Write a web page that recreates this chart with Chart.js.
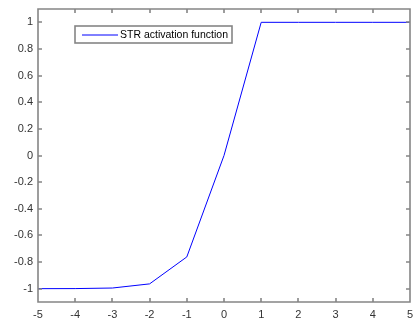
<!DOCTYPE html>
<html>
<head>
<meta charset="utf-8">
<script src="https://cdn.jsdelivr.net/npm/chart.js@4"></script>
<style>
  body { margin: 0; background: #fff; }
  canvas { display: block; }
</style>
</head>
<body>
<canvas id="graficaSTR" width="414" height="322"></canvas>
<script>
// datos
const xValores = [-5, -4, -3, -2, -1, 0, 1, 2, 3, 4, 5];
const yValores = [-0.9999, -0.9993, -0.9951, -0.964, -0.7616, 0, 1, 1, 1, 1, 1];
const xTicks = [-5, -4, -3, -2, -1, 0, 1, 2, 3, 4, 5];
const yTicks = [-1, -0.8, -0.6, -0.4, -0.2, 0, 0.2, 0.4, 0.6, 0.8, 1];
const etiquetaSerie = 'STR activation function';

const colorLinea = '#0000ff';
const colorEje = '#858585';
const fuente = { family: 'Liberation Sans, Arial, sans-serif', size: 11 };

// caja estilo matlab con ticks hacia adentro + leyenda
const cajaPlugin = {
    id: 'cajaMatlab',
    afterDraw(chart) {
        const c = chart.ctx;
        const a = chart.chartArea;
        const sx = chart.scales.x;
        const sy = chart.scales.y;
        const largo = 4;
        const L = Math.round(a.left), R = Math.round(a.right);
        const T = Math.round(a.top), B = Math.round(a.bottom);
        c.save();
        c.lineWidth = 1.6;
        c.strokeStyle = colorEje;
        c.beginPath();
        c.moveTo(L, T); c.lineTo(R, T); c.lineTo(R, B); c.lineTo(L, B); c.closePath();
        xTicks.forEach(v => {
            const px = Math.round(sx.getPixelForValue(v));
            c.moveTo(px, B); c.lineTo(px, B - largo);
            c.moveTo(px, T); c.lineTo(px, T + largo);
        });
        yTicks.forEach(v => {
            const py = Math.round(sy.getPixelForValue(v));
            c.moveTo(L, py); c.lineTo(L + largo, py);
            c.moveTo(R, py); c.lineTo(R - largo, py);
        });
        c.stroke();

        // leyenda
        const lx = 75, ly = 26, lw = 157, lh = 17;
        c.fillStyle = '#ffffff';
        c.fillRect(lx, ly, lw, lh);
        c.strokeStyle = colorEje;
        c.strokeRect(lx, ly, lw, lh);
        c.lineWidth = 1;
        c.strokeStyle = colorLinea;
        c.beginPath();
        c.moveTo(82, 35); c.lineTo(118, 35);
        c.stroke();
        c.fillStyle = '#000000';
        c.font = '10.5px ' + fuente.family;
        c.textBaseline = 'middle';
        c.textAlign = 'left';
        c.fillText(etiquetaSerie, 120, 35);
        c.restore();
    }
};

const ctx = document.getElementById('graficaSTR').getContext('2d');
new Chart(ctx, {
    type: 'line',
    data: {
        datasets: [{
            label: etiquetaSerie,
            data: xValores.map((x, i) => ({ x: x, y: yValores[i] })),
            borderColor: colorLinea,
            borderWidth: 1,
            pointRadius: 0,
            tension: 0
        }]
    },
    options: {
        responsive: false,
        animation: false,
        layout: { padding: { top: 9, right: 4, left: 0, bottom: 0 } },
        plugins: {
            legend: { display: false },
            tooltip: { enabled: false }
        },
        scales: {
            x: {
                type: 'linear',
                min: -5,
                max: 5,
                afterBuildTicks: s => { s.ticks = xTicks.map(v => ({ value: v })); },
                afterFit: s => { s.height = 20; s.paddingLeft = 0; s.paddingRight = 0; },
                grid: { display: false, drawTicks: false },
                border: { display: false },
                ticks: { color: '#333333', font: fuente, padding: 6, maxRotation: 0 }
            },
            y: {
                type: 'linear',
                min: -1.1,
                max: 1.1,
                afterBuildTicks: s => { s.ticks = yTicks.map(v => ({ value: v })); },
                afterFit: s => { s.width = 38; s.paddingTop = 0; s.paddingBottom = 0; },
                grid: { display: false, drawTicks: false },
                border: { display: false },
                ticks: {
                    color: '#333333', font: fuente, padding: 5,
                    callback: v => String(Math.round(v * 10) / 10)
                }
            }
        }
    },
    plugins: [cajaPlugin]
});
</script>
</body>
</html>
